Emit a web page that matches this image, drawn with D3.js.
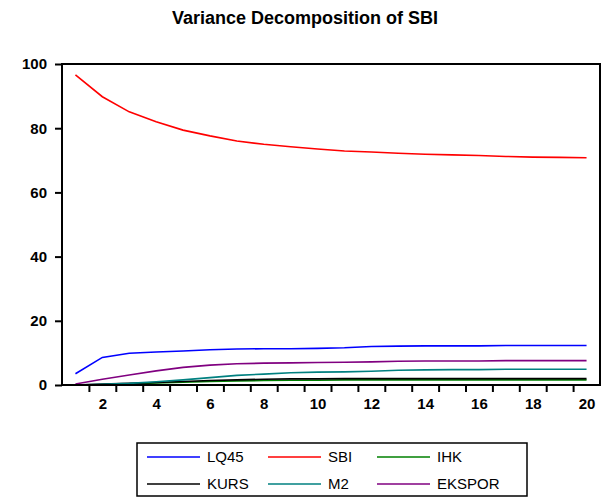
<!DOCTYPE html>
<html>
<head>
<meta charset="utf-8">
<script src="https://cdn.jsdelivr.net/npm/d3@7"></script>
<style>
  html, body { margin: 0; padding: 0; background: #fff; overflow: hidden; }
  svg { display: block; }
  text { font-family: "Liberation Sans", Arial, sans-serif; }
</style>
</head>
<body>
<div id="plot"></div>
<script>
// Data
const periods = d3.range(1, 21);
const lq45   = [3.5, 8.6, 9.9, 10.3, 10.6, 11.0, 11.2, 11.3, 11.3, 11.4, 11.6, 12.0, 12.1, 12.2, 12.2, 12.2, 12.3, 12.3, 12.3, 12.3];
const sbi    = [96.6, 89.8, 85.1, 82.0, 79.4, 77.6, 76.0, 75.0, 74.2, 73.5, 72.9, 72.6, 72.2, 71.9, 71.7, 71.5, 71.2, 71.0, 70.9, 70.8];
const ihk    = [0, 0.1, 0.3, 0.6, 0.9, 1.1, 1.3, 1.4, 1.5, 1.5, 1.6, 1.6, 1.6, 1.6, 1.6, 1.6, 1.6, 1.6, 1.6, 1.6];
const kurs   = [0, 0.3, 0.5, 0.8, 1.1, 1.4, 1.6, 1.8, 1.9, 1.9, 2.0, 2.0, 2.0, 2.0, 2.0, 2.0, 2.0, 2.0, 2.0, 2.0];
const m2     = [0, 0.2, 0.5, 1.0, 1.6, 2.3, 3.0, 3.4, 3.8, 4.0, 4.1, 4.3, 4.6, 4.7, 4.8, 4.8, 4.9, 4.9, 4.9, 4.9];
const ekspor = [0.3, 1.8, 3.1, 4.4, 5.5, 6.2, 6.6, 6.8, 6.9, 7.0, 7.1, 7.2, 7.4, 7.5, 7.5, 7.5, 7.6, 7.6, 7.6, 7.6];

const yTicks = [0, 20, 40, 60, 80, 100];
const xLabels = [2, 4, 6, 8, 10, 12, 14, 16, 18, 20];

const series = [
  { name: "LQ45", values: lq45, color: "#0000ff" },
  { name: "SBI", values: sbi, color: "#ff0000" },
  { name: "IHK", values: ihk, color: "#008000" },
  { name: "KURS", values: kurs, color: "#000000" },
  { name: "M2", values: m2, color: "#008080" },
  { name: "EKSPOR", values: ekspor, color: "#800080" }
];

// Dimensions
const w = 611, h = 499;
const margin = { top: 64, right: 11, bottom: 114, left: 62 };
const innerWidth = w - margin.left - margin.right;
const innerHeight = h - margin.top - margin.bottom;

const svg = d3.select("#plot").append("svg")
  .attr("width", w)
  .attr("height", h);

// Title
svg.append("text")
  .attr("x", 305)
  .attr("y", 24)
  .attr("text-anchor", "middle")
  .attr("font-size", 18)
  .attr("font-weight", "bold")
  .text("Variance Decomposition of SBI");

const g = svg.append("g")
  .attr("transform", `translate(${margin.left}, ${margin.top})`);

// Scales
const xScale = d3.scaleLinear().domain([0.5, 20.5]).range([0, innerWidth]);
const yScale = d3.scaleLinear().domain([0, 100]).range([innerHeight, 0]);

// Y axis
const yAxis = g.append("g")
  .attr("font-size", 15)
  .call(d3.axisLeft(yScale).tickValues(yTicks).tickSize(7).tickPadding(8));
yAxis.attr("font-size", 15).attr("font-family", null);
yAxis.select(".domain").remove();
yAxis.selectAll("line").attr("stroke-width", 2);
yAxis.selectAll("text").attr("font-weight", "bold");

// X axis: ticks between periods, labels on even periods
const xTickAxis = g.append("g")
  .attr("transform", `translate(0, ${innerHeight})`)
  .call(d3.axisBottom(xScale).tickValues(d3.range(1.5, 20, 1)).tickSize(7).tickFormat(""));
xTickAxis.select(".domain").remove();
xTickAxis.selectAll("line").attr("stroke-width", 2);

const xLabelAxis = g.append("g")
  .attr("transform", `translate(0, ${innerHeight})`)
  .call(d3.axisBottom(xScale).tickValues(xLabels).tickSize(0).tickPadding(13));
xLabelAxis.attr("font-size", 15).attr("font-family", null);
xLabelAxis.select(".domain").remove();
xLabelAxis.selectAll("text").attr("font-weight", "bold");

// Lines
const line = d3.line()
  .x((d, i) => xScale(periods[i]))
  .y(d => yScale(d));

g.selectAll(".series")
  .data(series)
  .enter().append("path")
  .attr("class", "series")
  .attr("fill", "none")
  .attr("stroke", d => d.color)
  .attr("stroke-width", 1.6)
  .attr("d", d => line(d.values));

// Frame
g.append("rect")
  .attr("x", 0)
  .attr("y", 0)
  .attr("width", innerWidth)
  .attr("height", innerHeight)
  .attr("fill", "none")
  .attr("stroke", "#000")
  .attr("stroke-width", 2);

// Legend
const legend = svg.append("g").attr("transform", "translate(137, 443)");
legend.append("rect")
  .attr("width", 390)
  .attr("height", 53)
  .attr("fill", "#fff")
  .attr("stroke", "#000")
  .attr("stroke-width", 1.5);

const colX = [10, 131, 240];
series.forEach((s, i) => {
  const col = i % 3, row = Math.floor(i / 3);
  const item = legend.append("g")
    .attr("transform", `translate(${colX[col]}, ${14 + row * 27})`);
  item.append("line")
    .attr("x1", 0).attr("x2", 53)
    .attr("stroke", s.color)
    .attr("stroke-width", 1.6);
  item.append("text")
    .attr("x", 60)
    .attr("dy", "0.36em")
    .attr("font-size", 15)
    .text(s.name);
});
</script>
</body>
</html>
